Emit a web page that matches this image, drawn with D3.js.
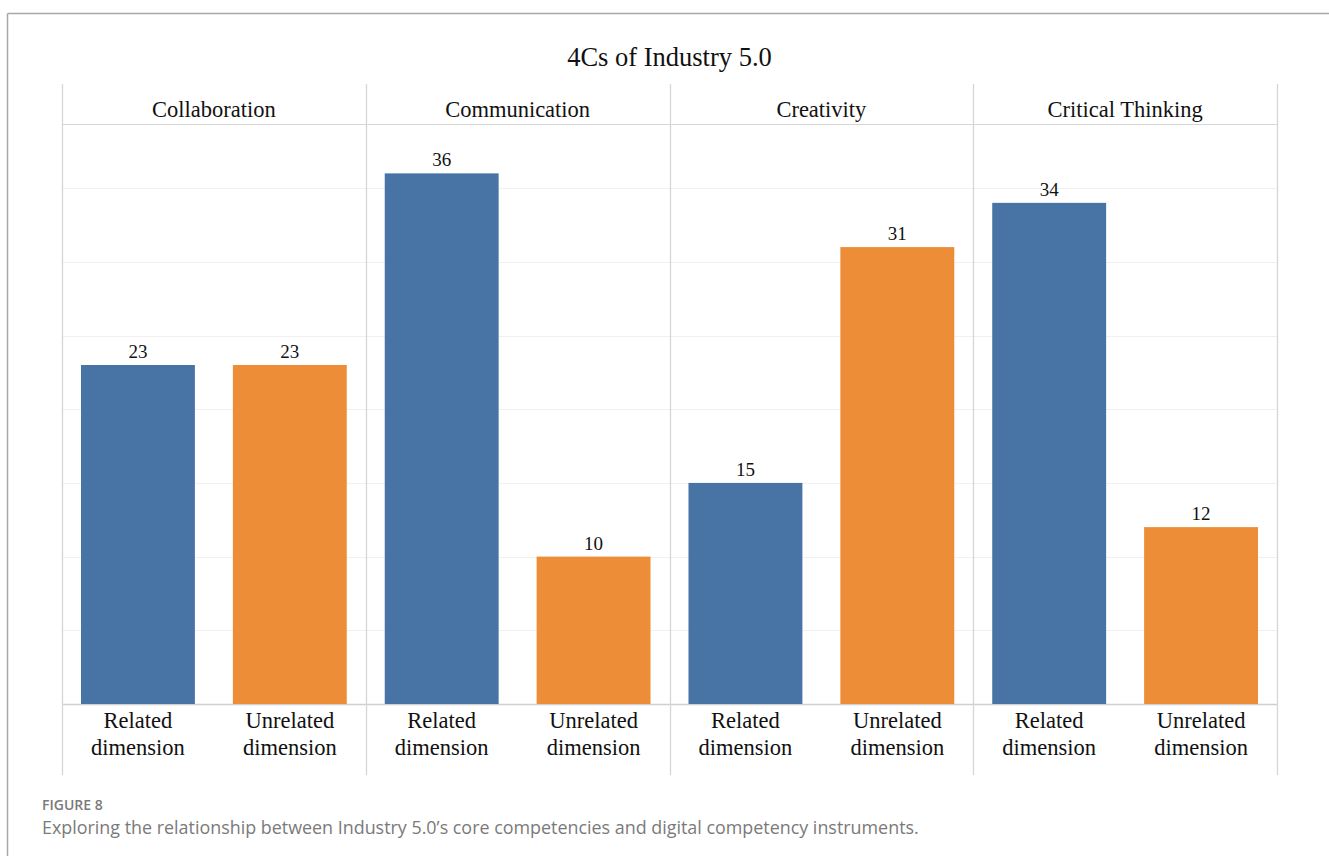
<!DOCTYPE html>
<html lang="en">
<head>
<meta charset="UTF-8">
<title>4Cs of Industry 5.0</title>
<script src="https://d3js.org/d3.v7.min.js"></script>
<style>
  body { margin: 0; background: #fff; }
  .serif { font-family: "Liberation Serif", "Times New Roman", serif; fill: #111; }
  .caption { font-family: "Open Sans", sans-serif; fill: #7a7a7a; }
</style>
</head>
<body>
<svg id="chart" width="1329" height="856"></svg>
<script>
// data
const competencies = ["Collaboration", "Communication", "Creativity", "Critical Thinking"]
const dimensions = ["Related dimension", "Unrelated dimension"]
const relatedValues = [23, 36, 15, 34]
const unrelatedValues = [23, 10, 31, 12]
const gridTicks = [5, 10, 15, 20, 25, 30, 35]
const colors = ["#4774a5", "#ee8d37"]

const svg = d3.select("#chart")

// outer frame (only top and left edges show)
svg.append("line").attr("x1", 7.5).attr("x2", 1329).attr("y1", 13.5).attr("y2", 13.5)
  .attr("stroke", "#a8a8a8").attr("stroke-width", 1.5)
svg.append("line").attr("x1", 7.5).attr("x2", 7.5).attr("y1", 13.5).attr("y2", 856)
  .attr("stroke", "#a8a8a8").attr("stroke-width", 1.5)

const left = 62, right = 1277
const headTop = 84, plotTop = 124, plotBottom = 704, labelBottom = 775

const x0 = d3.scaleBand().domain(competencies).range([left, right])
const x1 = d3.scaleBand().domain(dimensions).range([0, x0.bandwidth()]).paddingInner(0.25).paddingOuter(0.125)
const y = d3.scaleLinear().domain([0, 39.35]).range([plotBottom, plotTop])

// title
svg.append("text").attr("class", "serif")
  .attr("x", (left + right) / 2).attr("y", 66)
  .attr("text-anchor", "middle").attr("font-size", 26.5)
  .text("4Cs of Industry 5.0")

// horizontal gridlines
svg.append("g").selectAll("line").data(gridTicks).join("line")
  .attr("x1", left).attr("x2", right)
  .attr("y1", d => Math.round(y(d)) + 0.5).attr("y2", d => Math.round(y(d)) + 0.5)
  .attr("stroke", "#f0f0f0").attr("stroke-width", 1)

// header bottom line
svg.append("line").attr("x1", left).attr("x2", right)
  .attr("y1", plotTop + 0.5).attr("y2", plotTop + 0.5)
  .attr("stroke", "#d6d6d6")

// baseline
svg.append("line").attr("x1", left).attr("x2", right)
  .attr("y1", plotBottom + 0.5).attr("y2", plotBottom + 0.5)
  .attr("stroke", "#d0d0d0").attr("stroke-width", 1.5)

// vertical dividers
const dividers = competencies.map(c => x0(c)).concat([right])
svg.append("g").selectAll("line").data(dividers).join("line")
  .attr("x1", d => Math.round(d) + 0.5).attr("x2", d => Math.round(d) + 0.5)
  .attr("y1", headTop).attr("y2", labelBottom)
  .attr("stroke", "#d6d6d6").attr("stroke-width", 1.3)

const panels = svg.append("g").selectAll("g").data(competencies).join("g")
  .attr("transform", d => `translate(${x0(d)},0)`)

// panel headers
panels.append("text").attr("class", "serif")
  .attr("x", x0.bandwidth() / 2).attr("y", 117)
  .attr("text-anchor", "middle").attr("font-size", 22.5)
  .text(d => d)

const barData = (c, i) => [
  { dim: dimensions[0], value: relatedValues[i], color: colors[0] },
  { dim: dimensions[1], value: unrelatedValues[i], color: colors[1] }
]

panels.each(function (c, i) {
  const g = d3.select(this)
  const rows = barData(c, i)

  g.selectAll("rect").data(rows).join("rect")
    .attr("x", d => x1(d.dim))
    .attr("width", x1.bandwidth())
    .attr("y", d => y(d.value))
    .attr("height", d => y(0) - y(d.value))
    .attr("fill", d => d.color)

  g.selectAll("text.val").data(rows).join("text")
    .attr("class", "serif val")
    .attr("x", d => x1(d.dim) + x1.bandwidth() / 2)
    .attr("y", d => y(d.value) - 7)
    .attr("text-anchor", "middle").attr("font-size", 19)
    .text(d => d.value)

  // category labels, two lines
  const lab = g.selectAll("text.lab").data(rows).join("text")
    .attr("class", "serif lab")
    .attr("text-anchor", "middle").attr("font-size", 22.5)
  lab.append("tspan")
    .attr("x", d => x1(d.dim) + x1.bandwidth() / 2).attr("y", 728)
    .text(d => d.dim.split(" ")[0])
  lab.append("tspan")
    .attr("x", d => x1(d.dim) + x1.bandwidth() / 2).attr("y", 755)
    .text(d => d.dim.split(" ")[1])
})

// caption
svg.append("text").attr("class", "caption")
  .attr("x", 42).attr("y", 810).attr("font-size", 14).attr("font-weight", 600)
  .text("FIGURE 8")
svg.append("text").attr("class", "caption")
  .attr("x", 42).attr("y", 834).attr("font-size", 17.9)
  .text("Exploring the relationship between Industry 5.0\u2019s core competencies and digital competency instruments.")
</script>
</body>
</html>
